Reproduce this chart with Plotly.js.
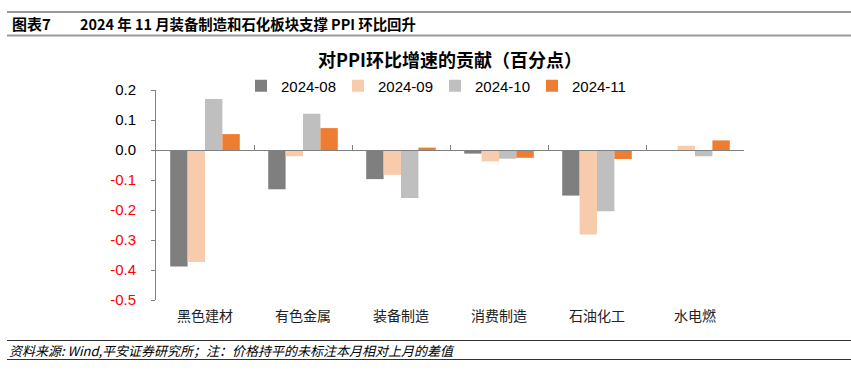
<!DOCTYPE html>
<html>
<head>
<meta charset="utf-8">
<script src="https://cdn.plot.ly/plotly-3.0.1.min.js"></script>
<style>html,body{margin:0;padding:0;background:#fff;}#chart{width:851px;height:379px;}</style>
</head>
<body>
<div id="chart"></div>
<script>
const categories = ['黑色建材', '有色金属', '装备制造', '消费制造', '石油化工', '水电燃'];
const seriesNames = ['2024-08', '2024-09', '2024-10', '2024-11'];
const s0808 = [-0.388, -0.131, -0.097, -0.012, -0.152, -0.001];
const s0809 = [-0.373, -0.021, -0.083, -0.038, -0.282, 0.014];
const s0810 = [0.170, 0.121, -0.160, -0.029, -0.204, -0.021];
const s0811 = [0.053, 0.073, 0.008, -0.026, -0.030, 0.032];
const yTickVals = [0.2, 0.1, 0.0, -0.1, -0.2, -0.3, -0.4, -0.5];
const colors = ['#7f7f7f', '#f8cbad', '#bfbfbf', '#ed7d31'];

const FONT = 'Liberation Sans, Arial, Noto Sans CJK SC, sans-serif';
const CJK = 'Noto Sans CJK SC, Liberation Sans, sans-serif';

const allSeries = [s0808, s0809, s0810, s0811];
const traces = allSeries.map((vals, i) => ({
  type: 'bar', name: seriesNames[i], x: categories, y: vals,
  marker: {color: colors[i], line: {width: 0}},
  hoverinfo: 'skip'
}));
// helper trace for the zero-line axis with boundary ticks
traces.push({
  type: 'scatter', mode: 'markers', x: categories, y: categories.map(() => 0),
  xaxis: 'x2', yaxis: 'y', marker: {opacity: 0}, showlegend: false, hoverinfo: 'skip'
});

const yTickText = yTickVals.map(v => {
  const t = v.toFixed(1);
  return v < 0 ? '<span style="color:#ff0000">' + t + '</span>' : t;
});

const L = 156, R = 744, T = 90, B = 300, W = 851, H = 379;
const px = x => (x - L) / (R - L);
const py = y => (B - y) / (B - T);

const layout = {
  width: W, height: H,
  margin: {l: L, r: W - R, t: T, b: H - B, pad: 0},
  paper_bgcolor: '#fff', plot_bgcolor: '#fff',
  font: {family: FONT, size: 15, color: '#000'},
  barmode: 'group', bargap: 0.29, bargroupgap: 0,
  title: {text: '<b>对PPI环比增速的贡献（百分点）</b>', font: {family: CJK, size: 18, color: '#000'},
          x: 0.5, xref: 'paper', xanchor: 'center', y: 1 - 61 / H, yref: 'container', yanchor: 'middle'},
  showlegend: true,
  legend: {orientation: 'h', x: px(241), xanchor: 'left', y: py(86), yanchor: 'middle',
           font: {family: FONT, size: 15, color: '#000'}, entrywidth: 52, entrywidthmode: 'pixels',
           bgcolor: 'rgba(0,0,0,0)', tracegroupgap: 0, itemsizing: 'constant'},
  xaxis: {type: 'category', categoryarray: categories, range: [-0.5, 5.5],
          showline: false, showgrid: false, zeroline: false, ticks: '',
          tickfont: {family: CJK, size: 14, color: '#222'}, ticklabelstandoff: 6, fixedrange: true},
  xaxis2: {type: 'category', categoryarray: categories, range: [-0.5, 5.5], overlaying: 'x',
           anchor: 'free', position: py(150), showline: true, linecolor: '#808080', linewidth: 1,
           ticks: 'inside', tickson: 'boundaries', ticklen: 5, tickcolor: '#808080', tickwidth: 1,
           showticklabels: false, showgrid: false, zeroline: false, fixedrange: true},
  yaxis: {range: [-0.5, 0.2], tickvals: yTickVals, ticktext: yTickText,
          showline: true, linecolor: '#808080', linewidth: 1, ticks: 'outside', ticklen: 4,
          tickcolor: '#808080', showgrid: false, zeroline: false, ticklabelstandoff: 12,
          tickfont: {family: FONT, size: 15, color: '#000'}, fixedrange: true},
  shapes: [
    {type: 'line', xref: 'paper', yref: 'paper', x0: px(7), x1: px(851), y0: py(12), y1: py(12), line: {color: '#999', width: 2}},
    {type: 'line', xref: 'paper', yref: 'paper', x0: px(7), x1: px(851), y0: py(35.5), y1: py(35.5), line: {color: '#999', width: 2}},
    {type: 'line', xref: 'paper', yref: 'paper', x0: px(7), x1: px(851), y0: py(340.5), y1: py(340.5), line: {color: '#333', width: 1}},
    {type: 'line', xref: 'paper', yref: 'paper', x0: px(7), x1: px(851), y0: py(359.5), y1: py(359.5), line: {color: '#333', width: 1}}
  ],
  annotations: [
    {text: '<b>图表7</b>', xref: 'paper', yref: 'paper', x: px(10), y: py(23), xanchor: 'left', yanchor: 'middle',
     showarrow: false, font: {family: CJK, size: 15, color: '#000'}},
    {text: '<b>2024 年 11 月装备制造和石化板块支撑 PPI 环比回升</b>', xref: 'paper', yref: 'paper', x: px(78), y: py(23),
     xanchor: 'left', yanchor: 'middle', showarrow: false, font: {family: CJK, size: 14.4, color: '#000'}},
    {text: '<i>资料来源: Wind,平安证券研究所；注：价格持平的未标注本月相对上月的差值</i>', xref: 'paper', yref: 'paper',
     x: px(7), y: py(350.5), xanchor: 'left', yanchor: 'middle', showarrow: false,
     font: {family: CJK, size: 13, color: '#000'}}
  ]
};

Plotly.newPlot('chart', traces, layout, {staticPlot: true, displayModeBar: false});
</script>
</body>
</html>
